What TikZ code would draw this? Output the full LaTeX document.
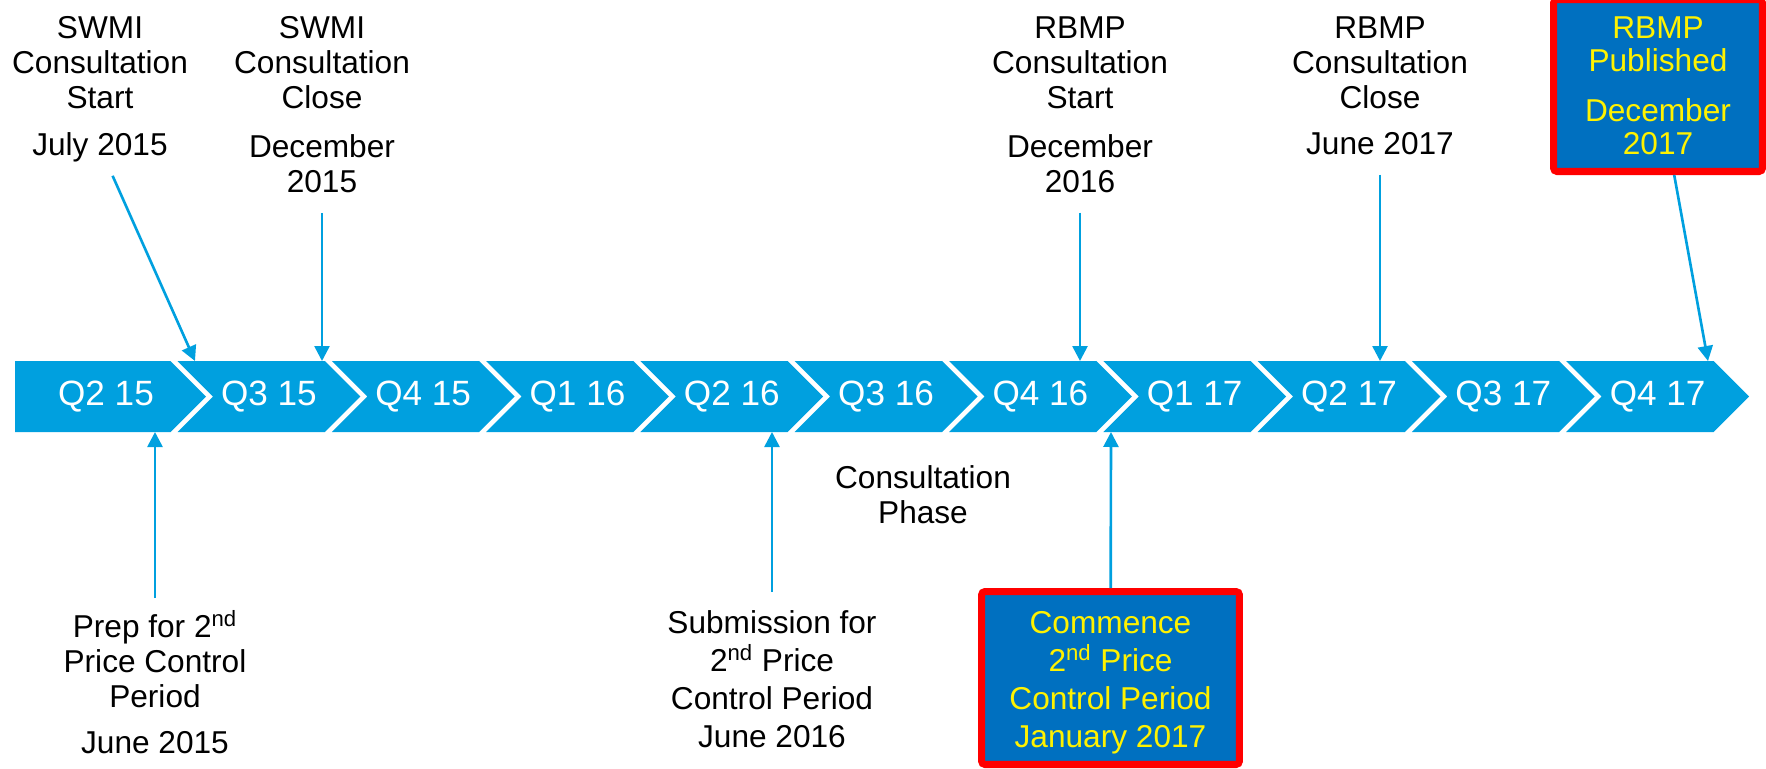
\documentclass[tikz,border=0pt]{standalone}
\usepackage{fontspec}
\setmainfont{Liberation Sans}
\usetikzlibrary{positioning, arrows.meta}

\definecolor{bandblue}{RGB}{0,160,223}
\definecolor{boxblue}{RGB}{0,112,192}

\begin{document}
\begin{tikzpicture}[
    x=0.02cm, y=-0.02cm,
    qlab/.style={text=white, inner sep=0pt, font=\fontsize{20}{23}\selectfont},
    note/.style={align=center, inner sep=0pt, font=\fontsize{18}{20}\selectfont},
    callout/.style={draw=red, line width=4pt, fill=boxblue, rounded corners=2pt, inner sep=0pt, align=center, text=yellow, font=\fontsize{18}{21.6}\selectfont},
    link/.style={draw=bandblue, line width=1.5pt, -{Triangle[length=0.3cm, width=0.3cm]}, shorten <=0.39cm},
    ]

   \useasboundingbox (0,0) rectangle (1766,768);
   \clip (0,0) rectangle (1766,768);

   % Quarter chevrons.
   \foreach \q [count=\i from 0] in {Q2 15,Q3 15,Q4 15,Q1 16,Q2 16,Q3 16,Q4 16,Q1 17,Q2 17,Q3 17,Q4 17}{
      \pgfmathsetmacro\tipx{206+154.3*\i}
      \pgfmathsetmacro\rx{\tipx-35.5}
      \pgfmathsetmacro\lx{\i>0 ? \tipx-182.8 : 15}
      \pgfmathsetmacro\nd{\i>0 ? 35.5 : 0}
      \pgfmathsetmacro\cx{\i>0 ? (\lx+\tipx)/2 : 106}
      \fill[bandblue] (\lx,361) -- (\rx,361) -- (\tipx,396.5) -- (\rx,432) -- (\lx,432) -- (\lx+\nd,396.5) -- cycle;
      \node[qlab] (q\i) at (\cx,396.5) {\q};
   }

   % Milestones above the band.
   \node[note, anchor=north] (swmiStart) at (100,16) {SWMI\\Consultation\\Start};
   \node[note, below=0.46cm of swmiStart] (swmiStartDate) {July 2015};
   \node[note, anchor=north] (swmiClose) at (322,16) {SWMI\\Consultation\\Close};
   \node[note, below=0.5cm of swmiClose] (swmiCloseDate) {December\\2015};
   \node[note, anchor=north] (rbmpStart) at (1080,16) {RBMP\\Consultation\\Start};
   \node[note, below=0.5cm of rbmpStart] (rbmpStartDate) {December\\2016};
   \node[note, anchor=north] (rbmpClose) at (1380,16) {RBMP\\Consultation\\Close};
   \node[note, below=0.46cm of rbmpClose] (rbmpCloseDate) {June 2017};
   \node[callout, minimum width=4.18cm, minimum height=3.44cm, font=\fontsize{18}{18.8}\selectfont] (published) at (1658,85.5) {RBMP\\Published\\[0.34cm]December\\2017};

   \coordinate (h-swmiStart) at (195,361);
   \coordinate (h-swmiClose) at (322,361);
   \coordinate (h-rbmpStart) at (1080,361);
   \coordinate (h-rbmpClose) at (1380,361);
   \coordinate (h-published) at (1708,361);

   \draw[link, shorten <=0.29cm] (swmiStartDate) -- (h-swmiStart);
   \draw[link] (swmiCloseDate) -- (h-swmiClose);
   \draw[link] (rbmpStartDate) -- (h-rbmpStart);
   \draw[link] (rbmpCloseDate) -- (h-rbmpClose);
   \draw[link, shorten <=0pt] (published) -- (h-published);

   % Milestones below the band.
   \node[note, anchor=north] (prep) at (155,610) {Prep for 2\textsuperscript{nd}\\Price Control\\Period};
   \node[note, below=0.46cm of prep] (prepDate) {June 2015};
   \node[note, anchor=north, font=\fontsize{18}{21.6}\selectfont] (submission) at (772,610) {Submission for\\2\textsuperscript{nd} Price\\Control Period\\June 2016};
   \node[note, anchor=north] (phase) at (923,465) {Consultation\\Phase};
   \node[callout, minimum width=5.16cm, minimum height=3.46cm] (commence) at (1110.5,678) {\rule{0pt}{18pt}Commence\\2\textsuperscript{nd} Price\\Control Period\\January 2017};

   \coordinate (h-prep) at (155,432);
   \coordinate (h-submission) at (772,432);
   \coordinate (h-commence) at (1111,432);

   \draw[link, shorten <=0.24cm] (prep) -- (h-prep);
   \draw[link, shorten <=0.36cm] (submission) -- (h-submission);
   \draw[link, shorten <=0pt] (commence) -- (h-commence);

\end{tikzpicture}
\end{document}
